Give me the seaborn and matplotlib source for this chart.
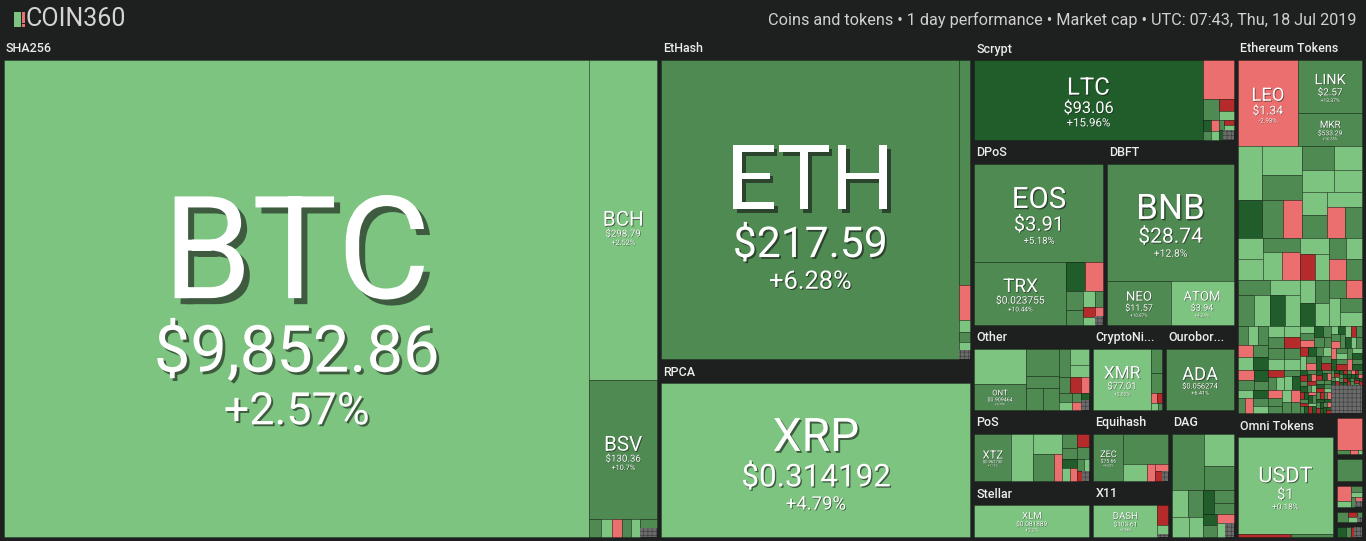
import numpy as np
import matplotlib
matplotlib.use("Agg")
import matplotlib.pyplot as plt
import matplotlib.patheffects as pe
from matplotlib.patches import Rectangle
import seaborn as sns

# --- labelled coins (size = tile weight) ---
coin_symbol = ['BTC', 'BCH', 'BSV', 'ETH', 'XRP', 'LTC', 'EOS', 'TRX', 'BNB', 'NEO', 'ATOM',
               'ONT', 'XMR', 'ADA', 'XTZ', 'ZEC', 'XLM', 'DASH', 'LEO', 'LINK', 'MKR', 'USDT']
coin_group = ['SHA256', 'SHA256', 'SHA256', 'EtHash', 'RPCA', 'Scrypt', 'DPoS', 'DPoS', 'DBFT', 'DBFT', 'DBFT',
              'Other', 'CryptoNight', 'Ouroboros', 'PoS', 'Equihash', 'Stellar', 'X11',
              'EthTokens', 'EthTokens', 'EthTokens', 'Omni']
coin_price = ['$9,852.86', '$298.79', '$130.36', '$217.59', '$0.314192', '$93.06', '$3.91', '$0.023755',
              '$28.74', '$11.57', '$3.94', '$0.909464', '$77.01', '$0.056274', '$0.962730', '$75.66',
              '$0.081889', '$103.61', '$1.34', '$2.57', '$533.29', '$1']
coin_change = [2.57, 2.52, 10.7, 6.28, 4.79, 15.96, 5.18, 10.44, 12.8, 10.87, 4.24,
               9.75, 2.82, 6.41, 7.11, 6.02, 2.2, 3.86, -2.93, 13.37, 10.35, 0.18]
coin_size = [2948.8, 229.9, 99.9, 975.0, 557.1, 240.8, 149.8, 68.7, 174.8, 32.9, 32.9,
             19.2, 51.3, 60.4, 27.2, 22.5, 66.6, 37.8, 57.5, 37.5, 23.0, 119.4]

nan = float('nan')

# --- small unlabelled tiles per group (size, 1 day change %, nan = no data) ---
sha256_tail_size = [2.3, 2.1, 1.8, 1.8, 1.7, 1.6, 1.6]
sha256_tail_chg = [8, 3, -3, 7, 2, 9, nan]
ethash_tail_size = [27.1, 4.2, 1.4, 1.2, 1.1, 1.0]
ethash_tail_chg = [8, -2, 3, 7, nan, 2]
scrypt_tail_size = [16.0, 4.5, 2.4, 1.6, 1.4, 1.3, 1.1, 1.0, 0.9, 0.8, 0.7, 0.6, 0.5]
scrypt_tail_chg = [-3, 8, -8, 3, nan, 18, -2, 7, 2, 9, -7, 3, 16]
dpos_tail_size = [6.5, 6.3, 3.8, 2.9, 2.2, 1.6, 1.3, 1.1, 1.0, 0.9]
dpos_tail_chg = [17, -3, 8, 7, 3, 9, -8, 2, nan, -2]
other_tail_size = [25.8, 13.1, 5.6, 5.4, 4.9, 4.7, 4.4, 3.2, 2.8, 2.4, 2.1, 1.8, 1.5, 1.2, 1.2, 1.0, 0.8]
other_tail_chg = [2, 7, 8, 9, 7, 8, 3, 3, 9, -8, -3, 6, 2, 8, nan, -2, 17]
cryptonight_tail_size = [4.2, 3.5, 1.0, 0.8, 0.7, 0.5]
cryptonight_tail_chg = [8, 7, -3, -9, 2, 9]
pos_tail_size = [16.2, 9.0, 8.6, 3.7, 3.2, 2.7, 2.6, 2.3, 1.9, 1.6, 1.4, 1.2, 1.2, 1.0, 0.8]
pos_tail_chg = [3, 2, 8, -3, 7, 9, -8, 6, 17, 3, -2, 8, nan, 2, -9]
equihash_tail_size = [21.0, 6.4, 2.2, 1.5, 1.1, 0.8]
equihash_tail_chg = [8, 3, -2, -3, -8, nan]
dag_tail_size = [23.6, 12.5, 9.2, 5.9, 5.5, 4.5, 3.9, 3.5, 3.3, 2.8, 2.0, 2.0, 2.0, 1.6, 1.6]
dag_tail_chg = [8, 3, 7, 4, 8, 2, 2, 18, 9, 7, 17, 6, -3, 3, nan]
x11_tail_size = [3.7, 1.7, 0.6]
x11_tail_chg = [-7, 3, nan]
eth_tokens_tail_size = [
    14.3, 12.8, 11.0, 10.3, 9.0, 8.2, 8.2, 7.5, 7.4, 6.8, 5.8, 5.3, 5.2, 5.0, 4.9, 4.3,
    6.4, 6.3, 6.1, 6.0, 5.9, 5.8, 5.8, 5.7, 5.6, 5.5, 5.3, 5.2,
    3.9, 3.9, 3.8, 3.8, 3.7, 3.7, 3.6, 3.6, 3.5, 3.5, 3.4, 3.4, 3.3, 3.3,
    2.2, 2.2, 2.1, 2.1, 2.1, 2.0, 2.0, 2.0, 2.0, 2.0, 2.0, 2.0, 1.9, 1.9, 1.9, 1.9, 1.9, 1.8,
    1.35, 1.35, 1.3, 1.3, 1.3, 1.25, 1.25, 1.25, 1.25, 1.2, 1.2, 1.2, 1.2, 1.2, 1.2, 1.2,
    1.15, 1.15, 1.15, 1.15, 1.1, 1.1, 1.1, 1.1, 1.05, 1.05,
    0.8, 0.8, 0.78, 0.78, 0.76, 0.75, 0.74, 0.73, 0.72, 0.72, 0.71, 0.71, 0.7, 0.7, 0.7, 0.7,
    0.69, 0.69, 0.68, 0.68, 0.67, 0.67, 0.66, 0.66, 0.65, 0.65, 0.64, 0.64, 0.63, 0.63, 0.62, 0.62,
    0.61, 0.6,
    0.4, 0.4, 0.39, 0.39, 0.38, 0.38, 0.37, 0.37, 0.36, 0.36, 0.35, 0.35, 0.35, 0.34, 0.34, 0.34,
    0.33, 0.33, 0.33, 0.33, 0.32, 0.32, 0.32, 0.32, 0.31, 0.31, 0.31, 0.31, 0.3, 0.3, 0.3, 0.3,
    0.29, 0.29, 0.29, 0.29, 0.28, 0.28, 0.28, 0.27,
    0.22, 0.22, 0.21, 0.21, 0.21, 0.2, 0.2, 0.2, 0.2, 0.19, 0.19, 0.19, 0.19, 0.19, 0.18, 0.18,
    0.18, 0.18, 0.18, 0.18, 0.17, 0.17, 0.17, 0.17, 0.17, 0.16, 0.16, 0.16, 0.16, 0.16, 0.15, 0.15,
    0.15, 0.15, 0.15, 0.14, 0.14, 0.14, 0.14, 0.14,
    9.5]
eth_tokens_tail_chg = [
    3, 2, 8, 17, 9, -2, 9, 3, 4, 1, 2, 7, 4, 3, 1, -7,
    3, 8, 2, -2, 7, 4, 9, 1, -3, 6, 3, 17,
    2, 9, 3, -4, 11, 1, 6, 20, 4, 7, -2, 3, 8, 2,
    7, 3, 12, -3, 2, 8, 18, 4, 9, 1, -6, 6, 3, 10, 2, -2, 7, 16,
    9, 2, 6, -3, 17, 8, 3, -8, 11, 4, 7, 1, 19, -2, 6, 9,
    3, -5, 12, 7, 2, 8, -3, 16, 5.5, 9,
    6, -6, 18, 3, 8, -3, 10, 2, 16, 7, -9, 4, 21, 9, -2, 13,
    3, -7, 8, 17, 2, 6, -4, 11, 3, 19, 7, -8, 9, 2, 15.5, -2,
    6, 22,
    17, -8, 7, 22, -3, 9, 16, -10, 6, 3, 18, -6, 11, 25, -4, 8,
    19, -9, 7, 14, 2, -7, 17, 9, -3, 21, 6, -12, 8, 18, 3, -6,
    16, 9, -9, 24, 7, -3, 17, 11,
    18, -9, 22, 7, -4, 16, 25, -11, 9, 19, -7, 14, 3, 21, -13, 17,
    8, -6, 23, 11, 16, -8, 20, 6, -3, 18, 27, -10, 12, 19, -5, 24,
    9, -9, 15, 21, -7, 13, 26, -12,
    nan]
omni_tail_size = [2.0, 1.6]
omni_tail_chg = [-8, 7]
mini1_size = [10.4, 0.6, 0.4, 0.2]
mini1_chg = [-3, 8, -2, 3]
mini2_size = [7.8]
mini2_chg = [8]
mini3_size = [3.0, 1.2, 1.0, 0.8, 0.6, 0.5, 0.4]
mini3_chg = [-3, 3, 8, 2, 7, nan, -2]
mini4_size = [2.0, 0.8, 0.7, 0.5, 0.4]
mini4_chg = [8, -8, 3, 7, nan]
mini5_size = [1.6, 1.4, 0.8, 0.6]
mini5_chg = [17, nan, 8, -8]

group_key = ['SHA256', 'EtHash', 'RPCA', 'Scrypt', 'DPoS', 'DBFT', 'Other', 'CryptoNight', 'Ouroboros',
             'PoS', 'Equihash', 'DAG', 'Stellar', 'X11', 'EthTokens', 'Omni',
             'mini1', 'mini2', 'mini3', 'mini4', 'mini5']
group_label = ['SHA256', 'EtHash', 'RPCA', 'Scrypt', 'DPoS', 'DBFT', 'Other', 'CryptoNi...', 'Ourobor...',
               'PoS', 'Equihash', 'DAG', 'Stellar', 'X11', 'Ethereum Tokens', 'Omni Tokens',
               '', '', '', '', '']

title_left = 'COIN360'
title_right = 'Coins and tokens \u2022 1 day performance \u2022 Market cap \u2022 UTC: 07:43, Thu, 18 Jul 2019'

tails = {
    'SHA256': (sha256_tail_size, sha256_tail_chg), 'EtHash': (ethash_tail_size, ethash_tail_chg),
    'Scrypt': (scrypt_tail_size, scrypt_tail_chg), 'DPoS': (dpos_tail_size, dpos_tail_chg),
    'Other': (other_tail_size, other_tail_chg), 'CryptoNight': (cryptonight_tail_size, cryptonight_tail_chg),
    'PoS': (pos_tail_size, pos_tail_chg), 'Equihash': (equihash_tail_size, equihash_tail_chg),
    'DAG': (dag_tail_size, dag_tail_chg), 'X11': (x11_tail_size, x11_tail_chg),
    'EthTokens': (eth_tokens_tail_size, eth_tokens_tail_chg), 'Omni': (omni_tail_size, omni_tail_chg),
    'mini1': (mini1_size, mini1_chg), 'mini2': (mini2_size, mini2_chg), 'mini3': (mini3_size, mini3_chg),
    'mini4': (mini4_size, mini4_chg), 'mini5': (mini5_size, mini5_chg),
}

# items per group: (size, change, symbol, price); no-data tiles go last
items = {g: [] for g in group_key}
for s, g, p, c, v in zip(coin_symbol, coin_group, coin_price, coin_change, coin_size):
    items[g].append((v, c, s, p))
for g, (sz, ch) in tails.items():
    assert len(sz) == len(ch), g
    for v, c in zip(sz, ch):
        items[g].append((v, c, None, None))
for g in items:
    items[g].sort(key=lambda t: (np.isnan(t[1]), -t[0]))
group_total = {g: sum(t[0] for t in items[g]) for g in group_key}

# how the groups sit next to each other
tree = ('h', ['SHA256', ('v', ['EtHash', 'RPCA']),
              ('v', ['Scrypt', ('h', ['DPoS', 'DBFT']),
                     ('h', ['Other', 'CryptoNight', 'Ouroboros']),
                     ('h', [('v', ['PoS', 'Stellar']), ('v', ['Equihash', 'X11']), 'DAG'])]),
              ('v', ['EthTokens', ('h', ['Omni', ('v', ['mini1', 'mini2', 'mini3', 'mini4', 'mini5'])])])])


def weight(node):
    if isinstance(node, str):
        return group_total[node]
    return sum(weight(k) for k in node[1])


def place(node, x0, y0, x1, y1, out):
    if isinstance(node, str):
        out[node] = (x0, y0, x1, y1)
        return
    kind, kids = node
    ws = [weight(k) for k in kids]
    tot = sum(ws)
    pos = x0 if kind == 'h' else y0
    for k, wk in zip(kids, ws):
        if kind == 'h':
            nx = pos + (x1 - x0) * wk / tot
            place(k, pos, y0, nx, y1, out)
            pos = nx
        else:
            ny = pos + (y1 - y0) * wk / tot
            place(k, x0, pos, x1, ny, out)
            pos = ny


def binary(vals, x0, y0, x1, y1):
    # d3 style binary treemap
    n = len(vals)
    sums = np.concatenate([[0.0], np.cumsum(vals)])
    out = [None] * n

    def part(i, j, value, x0, y0, x1, y1):
        if i >= j - 1:
            out[i] = (x0, y0, x1, y1)
            return
        off = sums[i]
        target = value / 2 + off
        k, hi = i + 1, j - 1
        while k < hi:
            mid = (k + hi) // 2
            if sums[mid] < target:
                k = mid + 1
            else:
                hi = mid
        if target - sums[k - 1] < sums[k] - target and i + 1 < k:
            k -= 1
        left = sums[k] - off
        right = value - left
        if x1 - x0 > y1 - y0:
            xk = (x0 * right + x1 * left) / value
            part(i, k, left, x0, y0, xk, y1)
            part(k, j, right, xk, y0, x1, y1)
        else:
            yk = (y0 * right + y1 * left) / value
            part(i, k, left, x0, y0, x1, yk)
            part(k, j, right, x0, yk, x1, y1)

    part(0, n, sums[-1], x0, y0, x1, y1)
    return out


bg = '#1e1f1f'
sns.set_theme(style='dark', rc={'axes.facecolor': bg, 'figure.facecolor': bg})
plt.rcParams['font.family'] = ['Roboto', 'DejaVu Sans']
plt.rcParams['hatch.linewidth'] = 0.4
pal = sns.color_palette(['#b52a2a', '#ec6f6f', '#7cc47f', '#4f8a52', '#205d2a'])


def tile_color(c):
    if np.isnan(c):
        return '#6b6b6b'
    if c < -5:
        return pal[0]
    if c < 0:
        return pal[1]
    if c <= 5:
        return pal[2]
    if c <= 15:
        return pal[3]
    return pal[4]


fig = plt.figure(figsize=(13.66, 5.41), dpi=100)
ax = fig.add_axes([0, 0, 1, 1])
ax.set_xlim(0, 1366)
ax.set_ylim(541, 0)
ax.axis('off')


def draw_label(x0, y0, x1, y1, sym, price, chg):
    w, h = x1 - x0, y1 - y0
    S = min(w / (1.1 * len(sym)), 0.3 * h)
    if S < 7:
        return
    P = min(0.68 * S, w / (1.0 * len(price)))
    C = min(0.085 * np.sqrt(w * h), 0.75 * P)
    hs, hp, hc = 0.71 * S, 0.71 * P, 0.71 * C
    g1, g2 = 0.42 * P, 0.32 * P
    top = (y0 + y1) / 2 + 0.025 * h - (hs + g1 + hp + g2 + hc) / 2
    cx = (x0 + x1) / 2
    for txt, size, base in [(sym, S, top + hs), (price, P, top + hs + g1 + hp),
                            (f'{chg:+g}%', C, top + hs + g1 + hp + g2 + hc)]:
        d = max(0.5, 0.03 * size * 1.4) * 0.72
        ax.text(cx, base, txt, fontsize=size * 0.72, color='white', ha='center', va='baseline',
                path_effects=[pe.withSimplePatchShadow(offset=(d, -d), shadow_rgbFace='#151515', alpha=0.6)])


rects = {}
place(tree, 2, 38, 1364, 539, rects)

for key, label in zip(group_key, group_label):
    gx0, gy0, gx1, gy1 = rects[key]
    head = 22 if label else 3
    if label:
        ax.text(gx0 + 4, gy0 + 11, label, fontsize=9, color='#ececec', fontweight='medium',
                ha='left', va='center')
    vals = [t[0] for t in items[key]]
    boxes = binary(vals, gx0 + 2, gy0 + head, gx1 - 2, gy1 - 2)
    for (v, c, sym, price), (x0, y0, x1, y1) in zip(items[key], boxes):
        col = tile_color(c)
        if np.isnan(c):
            ax.add_patch(Rectangle((x0, y0), x1 - x0, y1 - y0, facecolor=col, edgecolor='#3c3c3c',
                                   hatch='++++', lw=0))
        else:
            ax.add_patch(Rectangle((x0, y0), x1 - x0, y1 - y0, facecolor=col,
                                   edgecolor=(0, 0, 0, 0.28), lw=0.6))
        if sym and (x1 - x0) >= 24 and (y1 - y0) >= 24:
            draw_label(x0, y0, x1, y1, sym, price, c)

# top bar
ax.add_patch(Rectangle((14, 12), 6.5, 15, facecolor=pal[2], lw=0))
ax.add_patch(Rectangle((22, 12), 3.2, 10.5, facecolor=pal[1], lw=0))
ax.add_patch(Rectangle((22, 24), 3.2, 3, facecolor=pal[1], lw=0))
ax.text(25.5, 19.5, title_left, fontsize=18, color='#d4d4d4', ha='left', va='center')
ax.text(1356, 19.5, title_right, fontsize=11.7, color='#d0d0d0', ha='right', va='center')

fig.savefig('out.png', dpi=100, facecolor=bg)
